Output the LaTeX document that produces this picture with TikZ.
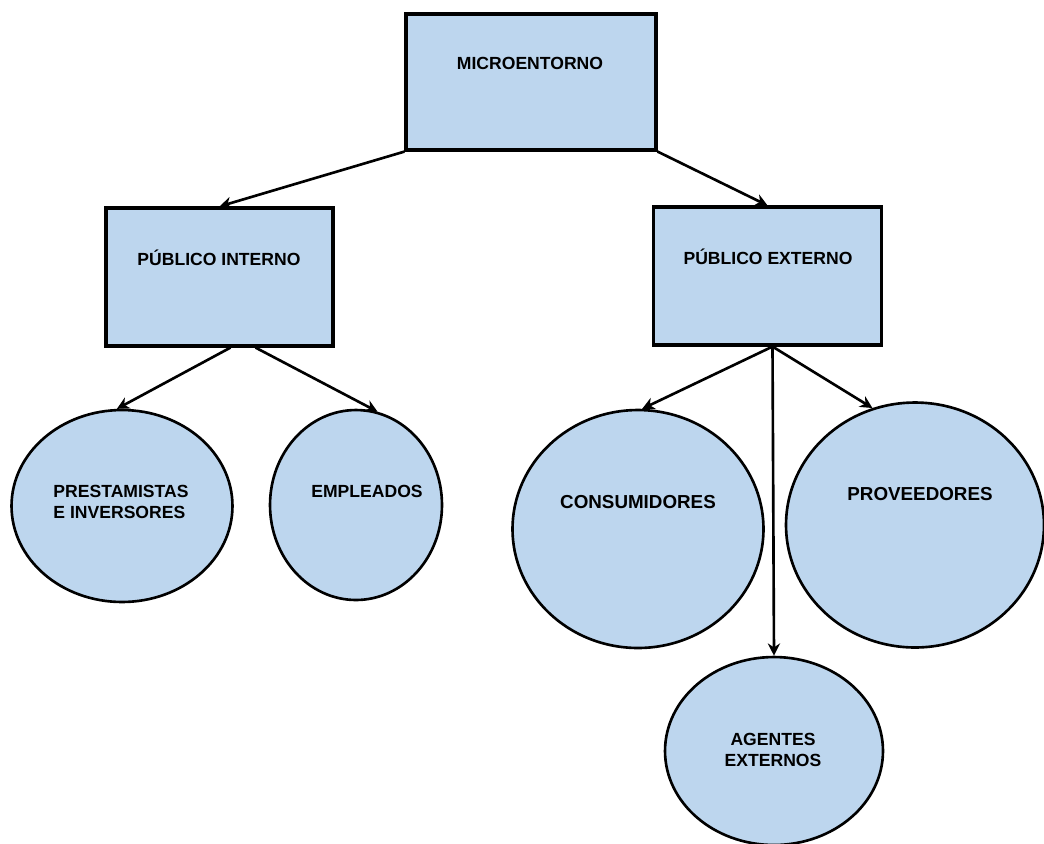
\documentclass[tikz,border=0pt]{standalone}
\usepackage{fontspec}
\setmainfont{Liberation Sans}
\usetikzlibrary{shapes.geometric,arrows.meta,calc}
\definecolor{azulclaro}{RGB}{189,214,238}
\begin{document}
\begin{tikzpicture}[x=0.02cm,y=-0.02cm,
    caja/.style={draw,line width=1.8pt,fill=azulclaro,inner sep=0pt},
    elipse/.style={draw,ellipse,line width=1.5pt,fill=azulclaro,inner sep=0pt},
    texto/.style={font=\fontsize{10}{12}\selectfont\bfseries,inner sep=0pt},
    flecha/.style={line width=1.5pt,-{Stealth[length=7pt,width=7pt]}}]
    \useasboundingbox (0,0) rectangle (1044,843);
    % cajas
    \node [caja,minimum width=5cm,minimum height=2.72cm] (micro) at (531,82) {};
    \node [caja,minimum width=4.54cm,minimum height=2.76cm] (pint) at (219.5,277) {};
    \node [caja,minimum width=4.56cm,minimum height=2.76cm] (pext) at (767.5,276) {};
    % elipses
    \node [elipse,minimum width=4.42cm,minimum height=3.84cm] (prest) at (122,506) {};
    \node [elipse,minimum width=3.44cm,minimum height=3.8cm] (emp) at (356,505) {};
    \node [elipse,minimum width=5.02cm,minimum height=4.76cm] (cons) at (638,529) {};
    \node [elipse,minimum width=5.16cm,minimum height=4.9cm] (prov) at (915,525) {};
    \node [elipse,minimum width=4.36cm,minimum height=3.76cm] (agt) at (774,751) {};
    % textos
    \node [texto] (tmicro) at (530,63) {MICROENTORNO};
    \node [texto] (tpint) at (219,258) {PÚBLICO INTERNO};
    \node [texto] (tpext) at (768,257) {PÚBLICO EXTERNO};
    \node [texto,align=left] (tprest) at (121,502) {PRESTAMISTAS\\E INVERSORES};
    \node [texto] (temp) at (367,491) {EMPLEADOS};
    \node [texto,font=\fontsize{10.7}{13}\selectfont\bfseries] (tcons) at (638,502) {CONSUMIDORES};
    \node [texto,font=\fontsize{10.7}{13}\selectfont\bfseries] (tprov) at (920,494) {PROVEEDORES};
    \node [texto,align=center] (tagt) at (773,750) {AGENTES\\EXTERNOS};
    % flechas
    \coordinate (pinta) at ($(pint.south)+(11,0)$);
    \coordinate (pintb) at ($(pint.south)+(36,0)$);
    \coordinate (pexta) at ($(pext.south)+(5,0)$);
    \draw [flecha] (micro.south west) -- (pint.north);
    \draw [flecha] (micro.south east) -- (pext.north);
    \draw [flecha] (pinta) -- (prest.93);
    \draw [flecha] (pintb) -- (emp.77);
    \draw [flecha] (pexta) -- (cons.88);
    \draw [flecha] (pexta) -- (agt.north);
    \draw [flecha] (pexta) -- (prov.110);
\end{tikzpicture}
\end{document}
